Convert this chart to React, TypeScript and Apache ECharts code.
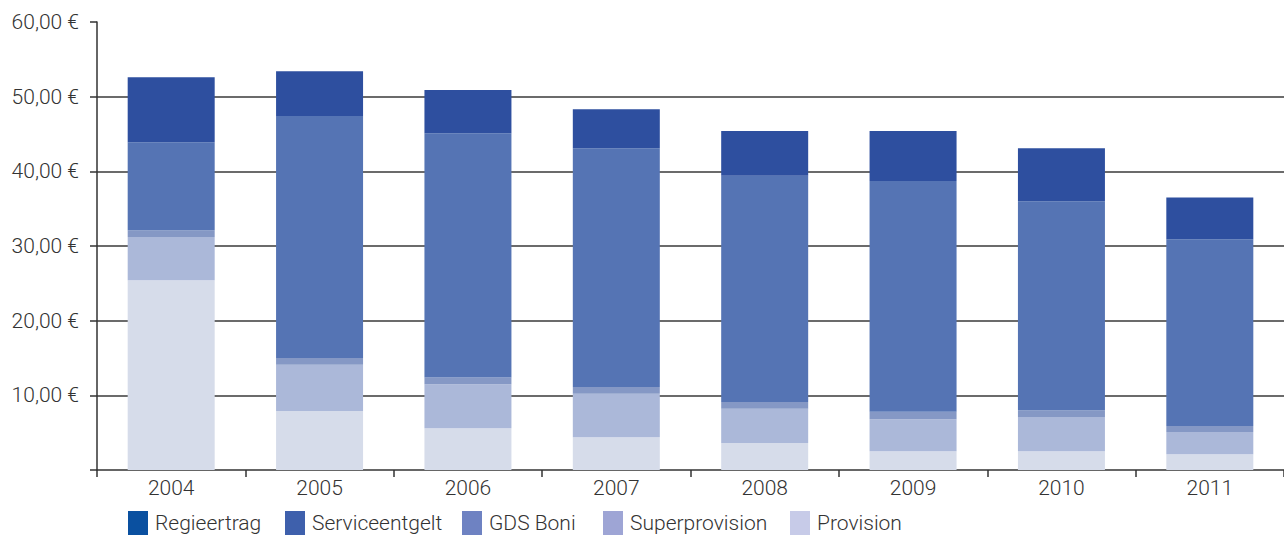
import React, { useEffect, useRef } from "react";
import * as echarts from "echarts";

const years = ["2004", "2005", "2006", "2007", "2008", "2009", "2010", "2011"];
const provision = [25.4, 7.9, 5.6, 4.4, 3.6, 2.5, 2.5, 2.1];
const superprovision = [5.8, 6.2, 5.9, 5.8, 4.6, 4.3, 4.6, 3.0];
const gdsBoni = [0.9, 0.9, 0.9, 0.9, 0.9, 1.0, 0.9, 0.8];
const serviceentgelt = [11.8, 32.4, 32.7, 32.0, 30.3, 30.9, 28.0, 25.0];
const regieertrag = [8.7, 6.0, 5.8, 5.2, 6.0, 6.7, 7.1, 5.6];

const seriesNames = ["Provision", "Superprovision", "GDS Boni", "Serviceentgelt", "Regieertrag"];
const seriesData = [provision, superprovision, gdsBoni, serviceentgelt, regieertrag];
const barColors = ["#d6dcea", "#abb8d9", "#8598c5", "#5574b4", "#2e4f9f"];

const legendNames = ["Regieertrag", "Serviceentgelt", "GDS Boni", "Superprovision", "Provision"];
const legendColors = ["#0a50a0", "#3e60ac", "#6e82c2", "#9ea5d5", "#c7cbe8"];
const legendLefts = [128, 285, 462, 603, 790];

const FONT = "Roboto, 'Liberation Sans', sans-serif";

export default function App() {
  const ref = useRef<HTMLDivElement>(null);
  useEffect(() => {
    if (!ref.current) return;
    const chart = echarts.init(ref.current, undefined, { renderer: "svg" });
    chart.setOption({
      animation: false,
      backgroundColor: "#ffffff",
      grid: { left: 97, right: 0, top: 22, bottom: 65, containLabel: false },
      legend: legendNames.map((n, i) => ({
        data: [{ name: n, itemStyle: { color: legendColors[i] } }],
        left: legendLefts[i],
        top: 511,
        padding: 0,
        icon: "rect",
        itemWidth: 20,
        itemHeight: 24,
        itemGap: 0,
        selectedMode: false,
        textStyle: { color: "#333", fontSize: 21, fontFamily: FONT, fontWeight: 300, padding: [0, 0, 0, 2] },
      })),
      xAxis: {
        type: "category",
        data: years,
        axisLine: { lineStyle: { color: "#333", width: 1.5 } },
        axisTick: { show: true, length: 7, lineStyle: { color: "#333", width: 1.5 } },
        axisLabel: { color: "#333", fontSize: 21, fontFamily: FONT, fontWeight: 300, margin: 7 },
      },
      yAxis: {
        type: "value",
        min: 0,
        max: 60,
        interval: 10,
        axisLine: { show: true, lineStyle: { color: "#333", width: 1.5 } },
        axisTick: { show: true, length: 7, lineStyle: { color: "#333", width: 1.5 } },
        axisLabel: {
          color: "#333",
          fontSize: 21,
          fontFamily: FONT,
          fontWeight: 300,
          margin: 18,
          formatter: (v: number) => (v === 0 ? "" : v.toFixed(2).replace(".", ",") + " €"),
        },
        splitLine: {
          show: true,
          lineStyle: {
            color: ["transparent", "#3a3a3a", "#3a3a3a", "#3a3a3a", "#3a3a3a", "#3a3a3a", "transparent"],
            width: 1.5,
          },
        },
      },
      series: seriesNames.map((n, i) => ({
        name: n,
        type: "bar",
        stack: "total",
        barWidth: 87,
        data: seriesData[i],
        itemStyle: { color: barColors[i] },
      })),
    });
    return () => chart.dispose();
  }, []);
  return <div ref={ref} style={{ width: 1284, height: 535, position: "absolute", left: 0, top: 0 }} />;
}
